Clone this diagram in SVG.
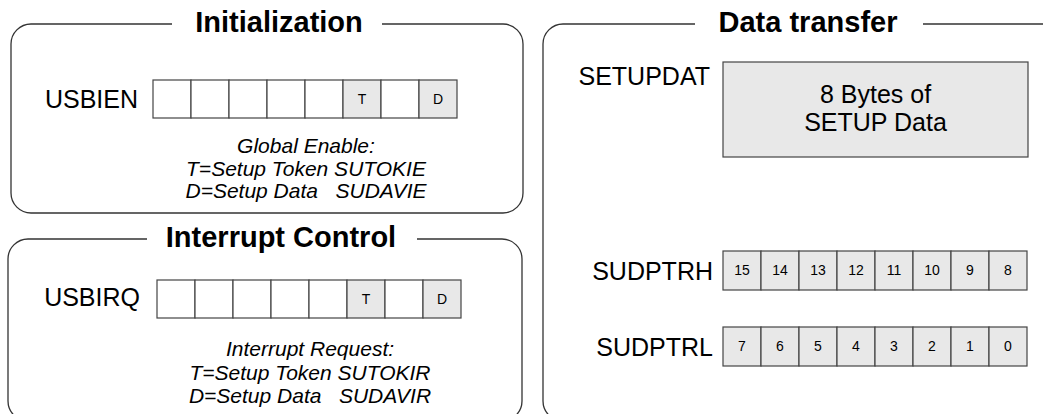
<svg xmlns="http://www.w3.org/2000/svg" width="1043" height="414" viewBox="0 0 1043 414">
<style>
.frame{fill:none;stroke:#333;stroke-width:1.3}
.title{font-family:"Liberation Sans",Arial,sans-serif;font-weight:bold;font-size:29px;fill:#000;text-anchor:middle}
.lbl{font-family:"Liberation Sans",Arial,sans-serif;font-size:25px;fill:#000}
.note{font-family:"Liberation Sans",Arial,sans-serif;font-style:italic;font-size:21px;fill:#000;text-anchor:middle}
.cell{fill:#fff;stroke:#444;stroke-width:1.2}
.gcell{fill:#e8e8e8;stroke:#444;stroke-width:1.2}
.bit{font-family:"Liberation Sans",Arial,sans-serif;font-size:14px;fill:#000;text-anchor:middle}
.big{font-family:"Liberation Sans",Arial,sans-serif;font-size:25px;fill:#000;text-anchor:middle}
</style>
<rect width="1043" height="414" fill="#fff"/>

<g id="initialization">
<path class="frame" d="M172,24 H31 A20,20 0 0 0 11,44 V193 A20,20 0 0 0 31,213 H503 A20,20 0 0 0 523,193 V44 A20,20 0 0 0 503,24 H382"/>
<text class="title" x="279" y="32">Initialization</text>
<text class="lbl" x="138" y="108" text-anchor="end">USBIEN</text>
<rect class="cell" x="153" y="80" width="38" height="38"/>
<rect class="cell" x="191" y="80" width="38" height="38"/>
<rect class="cell" x="229" y="80" width="38" height="38"/>
<rect class="cell" x="267" y="80" width="38" height="38"/>
<rect class="cell" x="305" y="80" width="38" height="38"/>
<rect class="gcell" x="343" y="80" width="38" height="38"/>
<rect class="cell" x="381" y="80" width="38" height="38"/>
<rect class="gcell" x="419" y="80" width="38" height="38"/>
<text class="bit" x="362" y="104">T</text>
<text class="bit" x="438" y="104">D</text>
<text class="note" x="306" y="153">Global Enable:</text>
<text class="note" x="306" y="176">T=Setup Token SUTOKIE</text>
<text class="note" x="306" y="198" xml:space="preserve">D=Setup Data   SUDAVIE</text>
</g>

<g id="interrupt-control">
<path class="frame" d="M147,239 H28 A20,20 0 0 0 8,259 V401 A20,20 0 0 0 28,421 H502 A20,20 0 0 0 522,401 V259 A20,20 0 0 0 502,239 H417"/>
<text class="title" x="281" y="247">Interrupt Control</text>
<text class="lbl" x="140" y="306" text-anchor="end">USBIRQ</text>
<rect class="cell" x="157" y="280" width="38" height="38"/>
<rect class="cell" x="195" y="280" width="38" height="38"/>
<rect class="cell" x="233" y="280" width="38" height="38"/>
<rect class="cell" x="271" y="280" width="38" height="38"/>
<rect class="cell" x="309" y="280" width="38" height="38"/>
<rect class="gcell" x="347" y="280" width="38" height="38"/>
<rect class="cell" x="385" y="280" width="38" height="38"/>
<rect class="gcell" x="423" y="280" width="38" height="38"/>
<text class="bit" x="366" y="304">T</text>
<text class="bit" x="442" y="304">D</text>
<text class="note" x="310" y="356">Interrupt Request:</text>
<text class="note" x="310" y="380">T=Setup Token SUTOKIR</text>
<text class="note" x="310" y="403" xml:space="preserve">D=Setup Data   SUDAVIR</text>
</g>

<g id="data-transfer">
<path class="frame" d="M695,24 H563 A20,20 0 0 0 543,44 V401 A20,20 0 0 0 563,421 H1050 M923,24 H1050"/>
<text class="title" x="808" y="32">Data transfer</text>
<text class="lbl" x="710" y="85" text-anchor="end">SETUPDAT</text>
<rect class="gcell" x="723" y="62" width="305" height="95"/>
<text class="big" x="875.5" y="103">8 Bytes of</text>
<text class="big" x="875.5" y="131">SETUP Data</text>
<text class="lbl" x="713" y="280" text-anchor="end">SUDPTRH</text>
<g id="sudptrh">
<rect class="gcell" x="723" y="251" width="38" height="39"/>
<rect class="gcell" x="761" y="251" width="38" height="39"/>
<rect class="gcell" x="799" y="251" width="38" height="39"/>
<rect class="gcell" x="837" y="251" width="38" height="39"/>
<rect class="gcell" x="875" y="251" width="38" height="39"/>
<rect class="gcell" x="913" y="251" width="38" height="39"/>
<rect class="gcell" x="951" y="251" width="38" height="39"/>
<rect class="gcell" x="989" y="251" width="38" height="39"/>
<text class="bit" x="742" y="275">15</text>
<text class="bit" x="780" y="275">14</text>
<text class="bit" x="818" y="275">13</text>
<text class="bit" x="856" y="275">12</text>
<text class="bit" x="894" y="275">11</text>
<text class="bit" x="932" y="275">10</text>
<text class="bit" x="970" y="275">9</text>
<text class="bit" x="1008" y="275">8</text>
</g>
<text class="lbl" x="713" y="356" text-anchor="end">SUDPTRL</text>
<g id="sudptrl">
<rect class="gcell" x="723" y="327" width="38" height="39"/>
<rect class="gcell" x="761" y="327" width="38" height="39"/>
<rect class="gcell" x="799" y="327" width="38" height="39"/>
<rect class="gcell" x="837" y="327" width="38" height="39"/>
<rect class="gcell" x="875" y="327" width="38" height="39"/>
<rect class="gcell" x="913" y="327" width="38" height="39"/>
<rect class="gcell" x="951" y="327" width="38" height="39"/>
<rect class="gcell" x="989" y="327" width="38" height="39"/>
<text class="bit" x="742" y="351">7</text>
<text class="bit" x="780" y="351">6</text>
<text class="bit" x="818" y="351">5</text>
<text class="bit" x="856" y="351">4</text>
<text class="bit" x="894" y="351">3</text>
<text class="bit" x="932" y="351">2</text>
<text class="bit" x="970" y="351">1</text>
<text class="bit" x="1008" y="351">0</text>
</g>
</g>

<g id="connectors"></g>
</svg>
